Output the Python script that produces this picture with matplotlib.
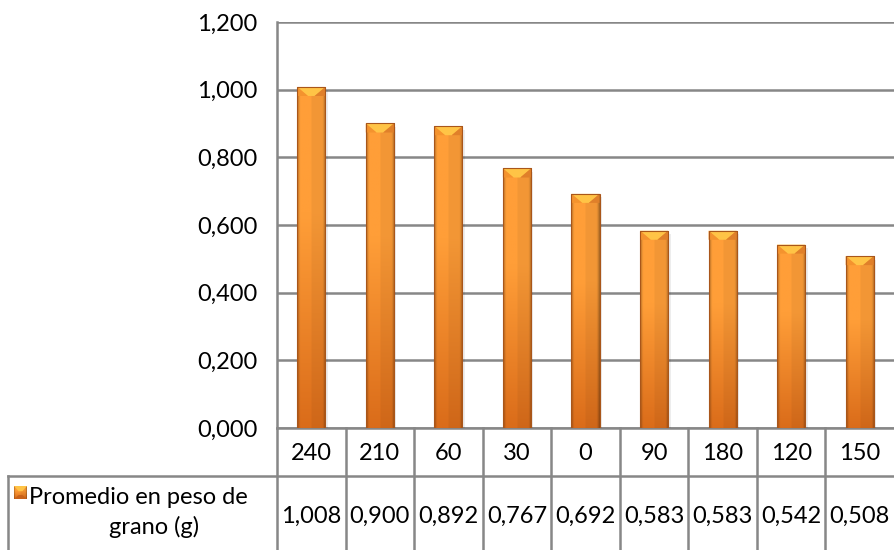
import numpy as np
import matplotlib
matplotlib.use("Agg")
import matplotlib.pyplot as plt
from matplotlib.colors import to_rgb
from matplotlib.patches import Polygon, Rectangle
from matplotlib.ticker import FuncFormatter, MultipleLocator
import matplotlib.transforms as mtransforms

categories = ["240", "210", "60", "30", "0", "90", "180", "120", "150"]
values = [1.008, 0.900, 0.892, 0.767, 0.692, 0.583, 0.583, 0.542, 0.508]
series_line1 = "Promedio en peso de"
series_line2 = "grano (g)"

plt.rcParams["font.family"] = ["Lato", "DejaVu Sans"]
FS = 17
GRID = "#878787"

W, H = 894, 550
fig = plt.figure(figsize=(W / 100, H / 100), dpi=100)
ax_left, ax_right, ax_top, ax_bottom = 277, 894, 22, 428
ax = fig.add_axes([ax_left / W, 1 - ax_bottom / H,
                   (ax_right - ax_left) / W, (ax_bottom - ax_top) / H])

n = len(categories)
x = np.arange(n)
bar_w = 0.41
bars = ax.bar(x, values, width=bar_w, color="#F7922C", zorder=3, linewidth=0)

ax.set_xlim(-0.5, n - 0.5)
ax.set_ylim(0, 1.2)
ax.yaxis.set_major_locator(MultipleLocator(0.2))
ax.yaxis.set_major_formatter(FuncFormatter(lambda v, p: f"{v:.3f}".replace(".", ",")))
ax.tick_params(axis="y", length=0, pad=14, labelsize=FS, labelcolor="#000000")
ax.set_xticks([])
ax.grid(axis="y", color=GRID, linewidth=1.8, zorder=0)
for s in ["top", "right", "bottom"]:
    ax.spines[s].set_visible(False)
ax.spines["left"].set_color(GRID)
ax.spines["left"].set_linewidth(1.8)


def bar_texture(nv=96, nh=48):
    """Orange fill: bright at the top, deeper at the base, darker rims."""
    top = np.array(to_rgb("#FF9E38"))
    bot = np.array(to_rgb("#DA6C1A"))
    t = np.linspace(0, 1, nv)[:, None, None]          # 0 = base, 1 = top
    t = np.clip(t * 1.6, 0, 1)
    col = bot * (1 - t) + top * t
    u = np.linspace(-1, 1, nh)
    shade = 1 - 0.30 * np.clip((np.abs(u) - 0.78) / 0.22, 0, 1) ** 1.2
    shade = shade - 0.05 * (u > 0)
    return np.clip(col * shade[None, :, None], 0, 1)


tex = bar_texture()
ys_px = (ax_bottom - ax_top) / 1.2
for b in bars:
    x0, y0 = b.get_x(), b.get_y()
    bw, bh = b.get_width(), b.get_height()
    im = ax.imshow(tex, extent=[x0, x0 + bw, y0, y0 + bh], origin="lower",
                   aspect="auto", zorder=4, interpolation="bilinear")
    im.set_clip_path(b)
    ax.add_patch(Rectangle((x0, y0), bw, bh, facecolor="none", edgecolor="#A9561A",
                           linewidth=0.8, zorder=6))
    # soft shadow on the right
    ax.add_patch(Rectangle((x0 + bw, y0), 0.035, bh - 0.01, color="#000000",
                           alpha=0.07, zorder=2, linewidth=0))
    # bevel on the top
    bev = 9 / ys_px
    top = y0 + bh
    ax.add_patch(Polygon([[x0, top], [x0 + bw, top], [x0 + bw * 0.62, top - bev],
                          [x0 + bw * 0.38, top - bev]], closed=True,
                         facecolor="#FFC446", edgecolor="none", zorder=5))
    ax.add_patch(Polygon([[x0, top], [x0 + bw * 0.38, top - bev], [x0, top - bev]],
                         closed=True, facecolor="#F4932E", edgecolor="none", zorder=5))
    ax.add_patch(Polygon([[x0 + bw, top], [x0 + bw * 0.62, top - bev], [x0 + bw, top - bev]],
                         closed=True, facecolor="#E0802A", edgecolor="none", zorder=5))

# data table under the plot
hpx = ax_bottom - ax_top
row1 = (476 - ax_bottom) / hpx
row2 = (560 - ax_bottom) / hpx
trans = mtransforms.blended_transform_factory(ax.transData, ax.transAxes)
line_kw = dict(color=GRID, linewidth=1.8, clip_on=False, transform=trans, zorder=1)

ax.plot([-0.5, n - 0.5], [0, 0], **line_kw)
legend_left = (8 - ax_left) / ((ax_right - ax_left) / n) - 0.5
ax.plot([legend_left, n - 0.5], [-row1, -row1], **line_kw)
ax.plot([legend_left, legend_left], [-row1, -row2], **line_kw)
for i in range(n):
    ax.plot([i - 0.5, i - 0.5], [0, -row2], **line_kw)

for i, (c, v) in enumerate(zip(categories, values)):
    ax.text(i, -(453 - ax_bottom) / hpx, c, transform=trans,
            ha="center", va="center", fontsize=FS)
    ax.text(i, -(516 - ax_bottom) / hpx, f"{v:.3f}".replace(".", ","),
            transform=trans, ha="center", va="center", fontsize=FS)

# series label with colour key
fig.text(29 / W, 1 - 498 / H, series_line1, ha="left", va="center", fontsize=FS)
fig.text(154 / W, 1 - 527 / H, series_line2, ha="center", va="center", fontsize=FS)
key = fig.add_axes([14 / W, 1 - 499 / H, 13 / W, 13 / H])
key.imshow(tex, aspect="auto", extent=[0, 1, 0, 1], origin="lower")
key.add_patch(Polygon([[0, 1], [1, 1], [0.65, 0.6], [0.35, 0.6]], facecolor="#FFC446",
                      edgecolor="none"))
key.add_patch(Polygon([[0, 0], [1, 0], [0.65, 0.3], [0.35, 0.3]], facecolor="#C8621A",
                      edgecolor="none"))
key.set_xlim(0, 1)
key.set_ylim(0, 1)
key.axis("off")

fig.savefig("out.png", dpi=100)
